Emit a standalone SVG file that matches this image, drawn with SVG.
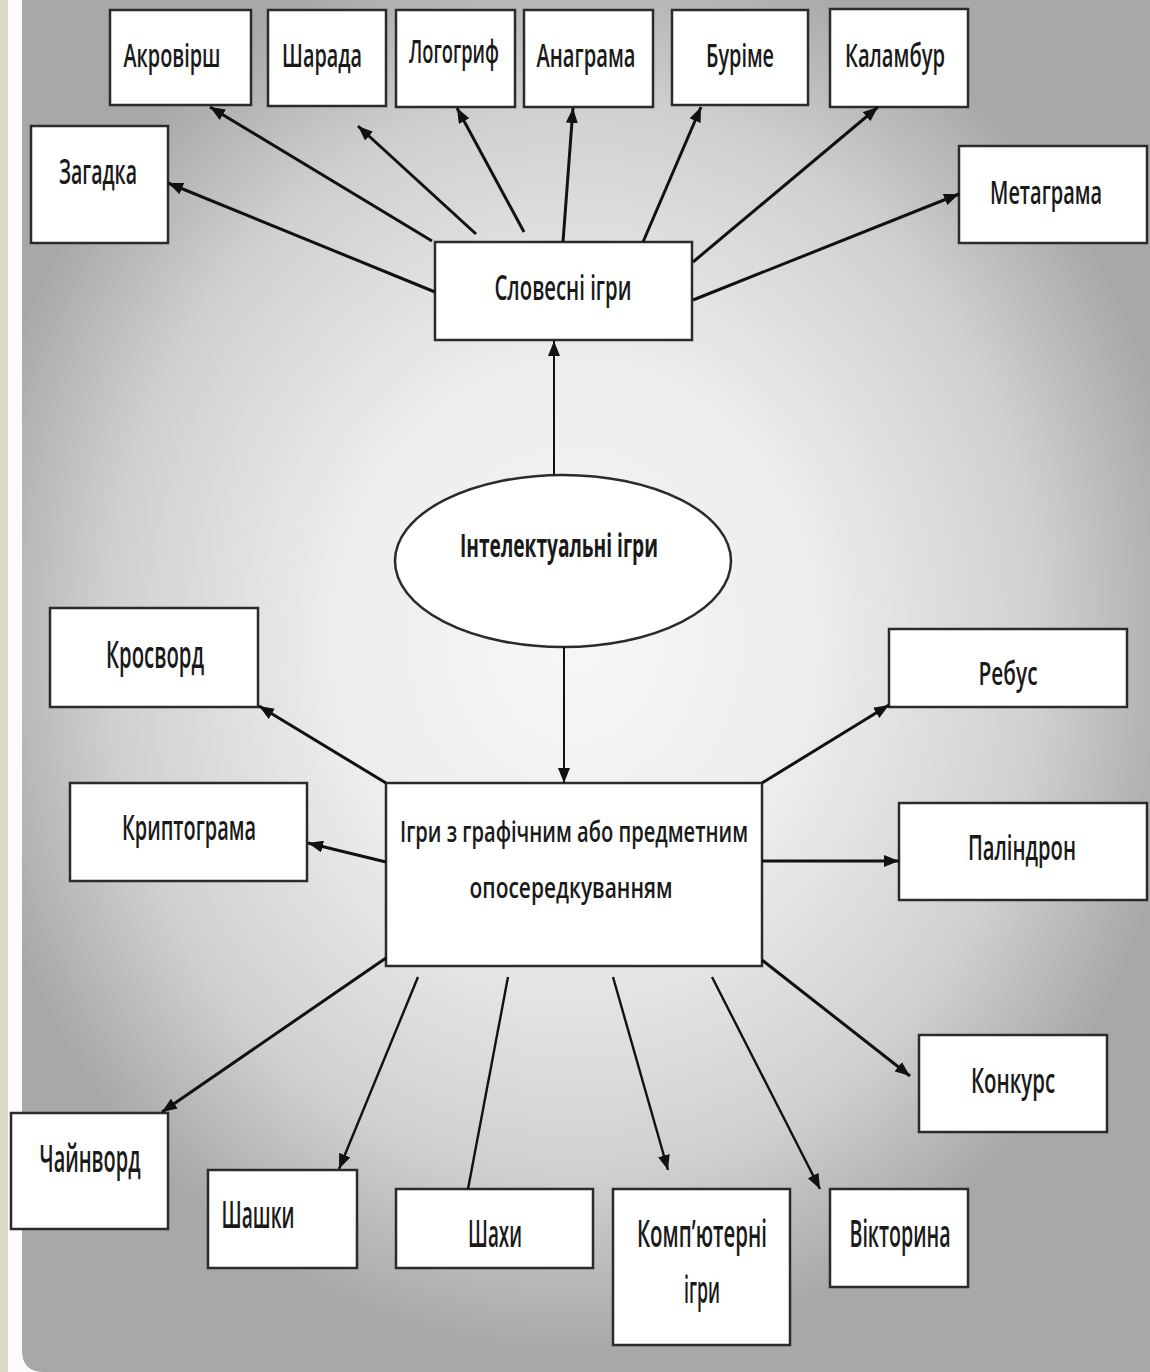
<svg xmlns="http://www.w3.org/2000/svg" width="1150" height="1372" viewBox="0 0 1150 1372">
  <defs>
    <radialGradient id="bg" gradientUnits="userSpaceOnUse" cx="575" cy="640" r="620" gradientTransform="translate(575 640) scale(1 1.15) translate(-575 -640)">
      <stop offset="0" stop-color="#f7f7f7"/>
      <stop offset="0.4" stop-color="#ececec"/>
      <stop offset="0.75" stop-color="#d0d0d0"/>
      <stop offset="1" stop-color="#a8a8a8"/>
    </radialGradient>
    <marker id="ah" markerUnits="userSpaceOnUse" markerWidth="16" markerHeight="12" refX="15" refY="6" orient="auto">
      <path d="M0,0 L15,6 L0,12 z" fill="#111"/>
    </marker>
    <style>
      .box{fill:#fff;stroke:#2b2b2b;stroke-width:2.5}
      .t{font-family:"Open Sans","Liberation Sans",sans-serif;font-weight:600;fill:#1a1a1a;text-anchor:middle}
      .c{stroke:#111;fill:none;stroke-width:3}
      .c2{stroke:#111;fill:none;stroke-width:2.4}
      .c3{stroke:#111;fill:none;stroke-width:2}
    </style>
  </defs>

  <!-- background -->
  <rect x="0" y="0" width="1150" height="1372" fill="#fbfbfb"/>
  <rect x="0" y="0" width="8" height="1372" fill="#ddd9c7"/>
  <path d="M22,0 H1150 V1372 H44 Q22,1372 22,1350 Z" fill="url(#bg)"/>

  <g id="n-akrovirsh"><rect class="box" x="110" y="10" width="141" height="95"/><text class="t" transform="translate(172 67) scale(1 1.5)" font-size="21.3" textLength="97" lengthAdjust="spacingAndGlyphs">Акровірш</text></g>
  <g id="n-sharada"><rect class="box" x="268" y="10" width="118" height="96"/><text class="t" transform="translate(322 67) scale(1 1.5)" font-size="21.3" textLength="80" lengthAdjust="spacingAndGlyphs">Шарада</text></g>
  <g id="n-logohryf"><rect class="box" x="396" y="10" width="119" height="97"/><text class="t" transform="translate(454 63) scale(1 1.5)" font-size="21.3" textLength="90" lengthAdjust="spacingAndGlyphs">Логогриф</text></g>
  <g id="n-anahrama"><rect class="box" x="524" y="10" width="129" height="97"/><text class="t" transform="translate(586 67) scale(1 1.5)" font-size="21.3" textLength="99" lengthAdjust="spacingAndGlyphs">Анаграма</text></g>
  <g id="n-burime"><rect class="box" x="672" y="10" width="136" height="95"/><text class="t" transform="translate(740 67) scale(1 1.5)" font-size="21.3" textLength="68" lengthAdjust="spacingAndGlyphs">Буріме</text></g>
  <g id="n-kalambur"><rect class="box" x="830" y="9" width="138" height="98"/><text class="t" transform="translate(895 67) scale(1 1.5)" font-size="22" textLength="100" lengthAdjust="spacingAndGlyphs">Каламбур</text></g>
  <g id="n-zahadka"><rect class="box" x="31" y="126" width="137" height="117"/><text class="t" transform="translate(98 184) scale(1 1.5)" font-size="23.3" textLength="78" lengthAdjust="spacingAndGlyphs">Загадка</text></g>
  <g id="n-metahrama"><rect class="box" x="959" y="146" width="188" height="97"/><text class="t" transform="translate(1046 204) scale(1 1.5)" font-size="22" textLength="112" lengthAdjust="spacingAndGlyphs">Метаграма</text></g>
  <g id="n-slovesni"><rect class="box" x="435" y="242" width="257" height="98"/><text class="t" transform="translate(563 300) scale(1 1.5)" font-size="23.3" textLength="137" lengthAdjust="spacingAndGlyphs">Словесні ігри</text></g>

  <g id="n-intelektualni"><ellipse cx="563" cy="561" rx="168" ry="86" fill="#fff" stroke="#2b2b2b" stroke-width="2.5"/><text class="t" transform="translate(559 557) scale(1 1.5)" font-size="21.3" style="font-weight:bold" textLength="198" lengthAdjust="spacingAndGlyphs">Інтелектуальні ігри</text></g>

  <g id="n-hrafichni"><rect class="box" x="386" y="783" width="376" height="183"/>
    <text class="t" transform="translate(574 842) scale(1 1.5)" font-size="19.3" textLength="348" lengthAdjust="spacingAndGlyphs">Ігри з графічним або предметним</text>
    <text class="t" transform="translate(571 898) scale(1 1.5)" font-size="19.3" textLength="203" lengthAdjust="spacingAndGlyphs">опосередкуванням</text></g>

  <g id="n-krosvord"><rect class="box" x="50" y="608" width="208" height="99"/><text class="t" transform="translate(155 668) scale(1 1.5)" font-size="24.7" textLength="98" lengthAdjust="spacingAndGlyphs">Кросворд</text></g>
  <g id="n-kryptohrama"><rect class="box" x="70" y="783" width="237" height="98"/><text class="t" transform="translate(189 840) scale(1 1.5)" font-size="22.7" textLength="134" lengthAdjust="spacingAndGlyphs">Криптограма</text></g>
  <g id="n-rebus"><rect class="box" x="889" y="629" width="238" height="78"/><text class="t" transform="translate(1008 685) scale(1 1.5)" font-size="22" textLength="59" lengthAdjust="spacingAndGlyphs">Ребус</text></g>
  <g id="n-palindron"><rect class="box" x="899" y="803" width="248" height="97"/><text class="t" transform="translate(1022 860) scale(1 1.5)" font-size="22.7" textLength="108" lengthAdjust="spacingAndGlyphs">Паліндрон</text></g>
  <g id="n-konkurs"><rect class="box" x="919" y="1035" width="188" height="97"/><text class="t" transform="translate(1013 1093) scale(1 1.5)" font-size="22.7" textLength="84" lengthAdjust="spacingAndGlyphs">Конкурс</text></g>

  <g id="n-chainvord"><rect class="box" x="11" y="1113" width="157" height="116"/><text class="t" transform="translate(90 1172) scale(1 1.5)" font-size="25.3" textLength="101" lengthAdjust="spacingAndGlyphs">Чайнворд</text></g>
  <g id="n-shashky"><rect class="box" x="208" y="1170" width="149" height="98"/><text class="t" transform="translate(258 1228) scale(1 1.5)" font-size="25.3" textLength="73" lengthAdjust="spacingAndGlyphs">Шашки</text></g>
  <g id="n-shakhy"><rect class="box" x="396" y="1189" width="197" height="79"/><text class="t" transform="translate(495 1247) scale(1 1.5)" font-size="25.3" textLength="54" lengthAdjust="spacingAndGlyphs">Шахи</text></g>
  <g id="n-kompiuterni"><rect class="box" x="613" y="1189" width="177" height="156"/>
    <text class="t" transform="translate(702 1247) scale(1 1.5)" font-size="25.3" textLength="130" lengthAdjust="spacingAndGlyphs">Комп’ютерні</text>
    <text class="t" transform="translate(702 1303) scale(1 1.5)" font-size="25.3" textLength="36" lengthAdjust="spacingAndGlyphs">ігри</text></g>
  <g id="n-viktoryna"><rect class="box" x="830" y="1189" width="138" height="98"/><text class="t" transform="translate(900 1247) scale(1 1.5)" font-size="25.3" textLength="101" lengthAdjust="spacingAndGlyphs">Вікторина</text></g>

  <g id="connectors">
    <line class="c" x1="435" y1="292" x2="168" y2="183" marker-end="url(#ah)"/>
    <line class="c" x1="432" y1="241" x2="210" y2="107" marker-end="url(#ah)"/>
    <line class="c" x1="476" y1="234" x2="358" y2="126" marker-end="url(#ah)"/>
    <line class="c" x1="524" y1="232" x2="457" y2="108" marker-end="url(#ah)"/>
    <line class="c" x1="563" y1="242" x2="573" y2="108" marker-end="url(#ah)"/>
    <line class="c" x1="643" y1="242" x2="701" y2="107" marker-end="url(#ah)"/>
    <line class="c" x1="693" y1="262" x2="878" y2="107" marker-end="url(#ah)"/>
    <line class="c" x1="693" y1="300" x2="959" y2="194" marker-end="url(#ah)"/>

    <line class="c3" x1="554" y1="475" x2="554" y2="341" marker-end="url(#ah)"/>
    <line class="c3" x1="564" y1="647" x2="564" y2="783" marker-end="url(#ah)"/>

    <line class="c" x1="386" y1="783" x2="259" y2="706" marker-end="url(#ah)"/>
    <line class="c" x1="386" y1="862" x2="308" y2="843" marker-end="url(#ah)"/>
    <line class="c" x1="762" y1="783" x2="889" y2="705" marker-end="url(#ah)"/>
    <line class="c" x1="762" y1="861" x2="899" y2="861" marker-end="url(#ah)"/>
    <line class="c" x1="762" y1="960" x2="910" y2="1076" marker-end="url(#ah)"/>
    <line class="c" x1="386" y1="958" x2="162" y2="1112" marker-end="url(#ah)"/>
    <line class="c2" x1="418" y1="977" x2="339" y2="1169" marker-end="url(#ah)"/>
    <line class="c2" x1="508" y1="977" x2="468" y2="1189"/>
    <line class="c2" x1="613" y1="977" x2="668" y2="1170" marker-end="url(#ah)"/>
    <line class="c2" x1="712" y1="977" x2="820" y2="1189" marker-end="url(#ah)"/>
  </g>
</svg>
